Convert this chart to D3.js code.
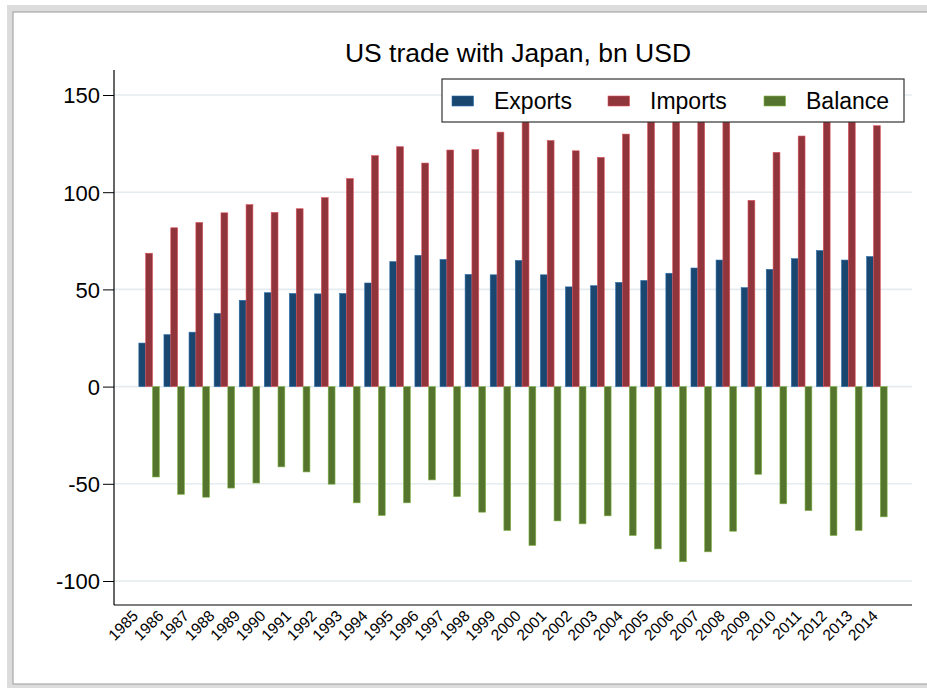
<!DOCTYPE html>
<meta charset="utf-8">
<style>
  body {
    margin: 0;
    background: #fff;
  }

  svg text {
    font-family: "Liberation Sans", Arial, sans-serif;
    fill: #000;
  }

  .grid line {
    stroke: #e4ecef;
    stroke-width: 1.6;
  }
</style>

<body>
  <div id="chart"></div>

  <script src="https://d3js.org/d3.v7.min.js"></script>
  <script>
    // data (bn USD)
    var years = [1985, 1986, 1987, 1988, 1989, 1990, 1991, 1992, 1993, 1994,
      1995, 1996, 1997, 1998, 1999, 2000, 2001, 2002, 2003, 2004,
      2005, 2006, 2007, 2008, 2009, 2010, 2011, 2012, 2013, 2014];

    var exportsVals = [22.4, 26.7, 28.0, 37.6, 44.4, 48.3, 47.9, 47.7, 47.9, 53.3,
      64.3, 67.5, 65.4, 57.7, 57.5, 64.9, 57.5, 51.3, 51.9, 53.6,
      54.6, 58.3, 61.0, 65.1, 50.9, 60.3, 65.8, 70.0, 65.1, 66.9];

    var importsVals = [68.6, 81.7, 84.4, 89.4, 93.6, 89.6, 91.5, 97.2, 107.0, 118.8,
      123.4, 115.0, 121.7, 121.9, 130.9, 146.5, 126.6, 121.3, 117.9, 129.9,
      138.1, 148.2, 145.5, 139.2, 95.8, 120.5, 128.9, 146.4, 138.5, 134.2];

    var balanceVals = [-46.5, -55.4, -56.9, -52.2, -49.6, -41.3, -43.9, -50.2, -59.8, -66.3,
      -59.8, -48.0, -56.6, -64.6, -74.0, -81.7, -69.1, -70.6, -66.5, -76.6,
      -83.5, -90.1, -85.0, -74.4, -45.1, -60.3, -63.8, -76.6, -74.0, -67.0];

    var seriesNames = ["Exports", "Imports", "Balance"];
    var seriesColors = ["#1a476f", "#90353b", "#55752f"];
    var yTicks = [-100, -50, 0, 50, 100, 150];

    var W = 927, H = 688;
    // plot region
    var plotLeft = 114, plotRight = 912, plotTop = 70, plotBottom = 605;

    var svg = d3.select("#chart")
      .append("svg")
      .attr("width", W)
      .attr("height", H);

    // outer stata-like frame
    svg.append("rect")
      .attr("x", 7).attr("y", 5)
      .attr("width", W - 7).attr("height", H - 5)
      .attr("fill", "#dcdcdc");
    svg.append("rect")
      .attr("x", 13).attr("y", 12)
      .attr("width", W + 5 - 13).attr("height", 684 - 12)
      .attr("fill", "#fff")
      .attr("stroke", "#a8a8a8")
      .attr("stroke-width", 1.2);

    // scales
    var x0 = d3.scaleBand()
      .domain(years)
      .range([plotLeft, plotRight])
      .paddingInner(0.183)
      .paddingOuter(0.99);

    var x1 = d3.scaleBand()
      .domain(seriesNames)
      .range([0, x0.bandwidth()]);

    // label anchors: stata spreads the rotated labels a little wider than the groups
    var xLab = d3.scalePoint()
      .domain(years)
      .range([x0(years[0]) + x0.bandwidth() / 2 - 10, x0(years[years.length - 1]) + x0.bandwidth() / 2 + 2]);

    var y = d3.scaleLinear()
      .domain([-100, 150])
      .range([581, 95]);

    var color = d3.scaleOrdinal()
      .domain(seriesNames)
      .range(seriesColors);

    // gridlines
    svg.append("g")
      .attr("class", "grid")
      .selectAll("line")
      .data(yTicks)
      .enter().append("line")
      .attr("x1", plotLeft)
      .attr("x2", plotRight)
      .attr("y1", function(d) { return y(d); })
      .attr("y2", function(d) { return y(d); });

    // bars
    var rows = years.map(function(yr, i) {
      return {
        year: yr,
        values: [
          { key: "Exports", value: exportsVals[i] },
          { key: "Imports", value: importsVals[i] },
          { key: "Balance", value: balanceVals[i] }
        ]
      };
    });

    var groups = svg.append("g")
      .selectAll("g")
      .data(rows)
      .enter().append("g")
      .attr("transform", function(d) { return "translate(" + x0(d.year) + ",0)"; });

    groups.selectAll("rect")
      .data(function(d) { return d.values; })
      .enter().append("rect")
      .attr("x", function(d) { return x1(d.key); })
      .attr("width", x1.bandwidth())
      .attr("y", function(d) { return y(Math.max(0, d.value)); })
      .attr("height", function(d) { return Math.abs(y(d.value) - y(0)); })
      .attr("fill", function(d) { return color(d.key); })
      .attr("stroke", function(d) { return d3.color(color(d.key)).brighter(1.2); })
      .attr("stroke-width", 0.6);

    // y axis
    var yAxis = d3.axisLeft(y)
      .tickValues(yTicks)
      .tickFormat(function(d) { return String(d); }) // plain hyphen minus
      .tickSize(11)
      .tickPadding(3);

    var gy = svg.append("g")
      .attr("transform", "translate(" + plotLeft + ",0)")
      .call(yAxis);
    gy.select(".domain").remove();
    gy.selectAll(".tick line").attr("stroke", "#000").attr("stroke-width", 1);
    gy.selectAll(".tick text")
      .style("font-size", "22px")
      .attr("dy", "0.36em");

    svg.append("line")
      .attr("x1", plotLeft).attr("x2", plotLeft)
      .attr("y1", plotTop).attr("y2", plotBottom)
      .attr("stroke", "#000")
      .attr("stroke-width", 1.2);

    // x axis
    svg.append("line")
      .attr("x1", plotLeft).attr("x2", plotRight)
      .attr("y1", plotBottom).attr("y2", plotBottom)
      .attr("stroke", "#000")
      .attr("stroke-width", 1.2);

    svg.append("g")
      .selectAll("text")
      .data(years)
      .enter().append("text")
      .attr("transform", function(d) {
        return "translate(" + xLab(d) + ",617) rotate(-45)";
      })
      .attr("text-anchor", "end")
      .style("font-size", "15.5px")
      .text(function(d) { return d; });

    // title
    svg.append("text")
      .attr("x", 518)
      .attr("y", 62)
      .attr("text-anchor", "middle")
      .style("font-size", "26.5px")
      .text("US trade with Japan, bn USD");

    // legend, drawn over the bars
    var legend = svg.append("g");
    legend.append("rect")
      .attr("x", 442).attr("y", 79)
      .attr("width", 462).attr("height", 43)
      .attr("fill", "#fff")
      .attr("stroke", "#333")
      .attr("stroke-width", 1.2);

    var legendX = [452, 608, 764];
    seriesNames.forEach(function(name, i) {
      legend.append("rect")
        .attr("x", legendX[i]).attr("y", 96)
        .attr("width", 21.5).attr("height", 10)
        .attr("fill", color(name))
        .attr("stroke", d3.color(color(name)).brighter(1.2))
        .attr("stroke-width", 0.6);
      legend.append("text")
        .attr("x", legendX[i] + 42)
        .attr("y", 109)
        .style("font-size", "23px")
        .text(name);
    });
  </script>
</body>
